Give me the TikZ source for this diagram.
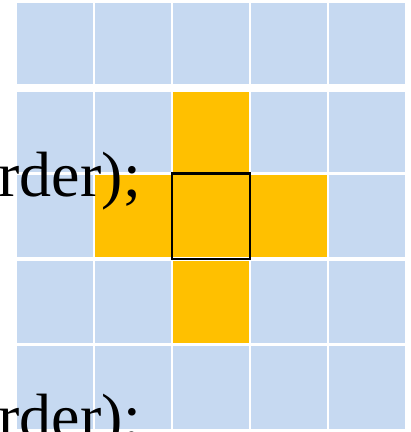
\documentclass[tikz,border=0pt]{standalone}
\usepackage{fontspec}
\setmainfont{Liberation Serif}
\definecolor{cellblue}{HTML}{C6D9F1}
\definecolor{cellyellow}{HTML}{FFC000}
\begin{document}
\begin{tikzpicture}[x=1pt,y=-1pt,
  cellb/.style={fill=cellblue,draw=none},
  celly/.style={fill=cellyellow,draw=none},
  centerbox/.style={draw=black,line width=2.5pt},
  codetext/.style={font=\fontsize{64}{64}\selectfont,inner sep=0pt,anchor=base east,text=black}]
\useasboundingbox (0,0) rectangle (411,432);
\clip (0,0) rectangle (411,432);
\def\colL{{17.3,95.3,173.3,251.3,329.3}}
\def\rowT{{3.3,91.5,174.7,260.7,346}}
\def\rowB{{83.7,172,257.3,343.3,429}}
\foreach \i in {0,...,4}{
  \foreach \j in {0,...,4}{
    \pgfmathsetmacro{\xa}{\colL[\i]}
    \pgfmathsetmacro{\xb}{\colL[\i]+75.4}
    \pgfmathsetmacro{\ya}{\rowT[\j]}
    \pgfmathsetmacro{\yb}{\rowB[\j]}
    \path[cellb] (\xa,\ya) rectangle (\xb,\yb);
  }
}
% yellow cross
\path[celly] (173.3,91.5) rectangle (248.7,172);
\path[celly] (173.3,174.7) rectangle (248.7,257.3);
\path[celly] (173.3,260.7) rectangle (248.7,343.3);
\path[celly] (95.3,174.7) rectangle (170.7,257.3);
\path[celly] (251.3,174.7) rectangle (326.7,257.3);
\draw[centerbox] (172,173.5) rectangle (249.8,258.8);
% texts
\node[codetext] (t1) at (141,196) {rder);};
\node[codetext] (t2) at (141,438) {rder);};
\end{tikzpicture}
\end{document}
